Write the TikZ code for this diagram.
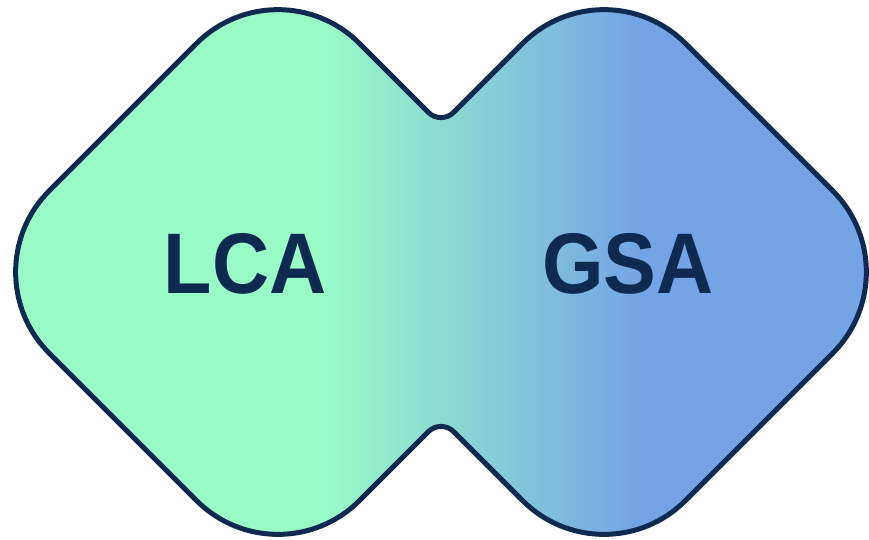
\documentclass[tikz,border=0pt]{standalone}
\usepackage{graphicx}
\usepackage{fontspec}
\setmainfont{Liberation Sans}
\usetikzlibrary{calc}
\definecolor{mint}{HTML}{99FCC7}
\definecolor{sky}{HTML}{74A4E5}
\definecolor{navy}{HTML}{0F2A50}
\tikzset{
  rc/.style n args={3}{insert path={-- ($(#1)!115pt!(#2)$) .. controls ($(#1)!51.5pt!(#2)$) and ($(#1)!51.5pt!(#3)$) .. ($(#1)!115pt!(#3)$)}},
  rcs/.style n args={3}{insert path={-- ($(#1)!18pt!(#2)$) .. controls ($(#1)!8pt!(#2)$) and ($(#1)!8pt!(#3)$) .. ($(#1)!18pt!(#3)$)}},
  lbl/.style={text=navy,font=\fontsize{86}{90}\selectfont\bfseries,anchor=base}
}
\begin{document}
\begin{tikzpicture}[x=1pt,y=-1pt]
  \useasboundingbox (0,0) rectangle (869,539);
  % corners of the two lobes and the pinch
  \coordinate (Ll) at (-32,272);
  \coordinate (Lt) at (278,-38);
  \coordinate (Lb) at (278,582);
  \coordinate (Rt) at (604,-38);
  \coordinate (Rr) at (914,272);
  \coordinate (Rb) at (604,582);
  \coordinate (Pt) at (441,125);
  \coordinate (Pb) at (441,419);

  \path[save path=\blob] ($(Ll)!115pt!(Lt)$) [rc={Lt}{Ll}{Pt}] [rcs={Pt}{Lt}{Rt}] [rc={Rt}{Pt}{Rr}] [rc={Rr}{Rt}{Rb}]
    [rc={Rb}{Rr}{Pb}] [rcs={Pb}{Rb}{Lb}] [rc={Lb}{Pb}{Ll}] [rc={Ll}{Lb}{Lt}] -- cycle;

  \begin{scope}
    \clip[use path=\blob];
    \fill[mint] (0,0) rectangle (324,539);
    \shade[left color=mint,right color=sky] (322,0) rectangle (640,539);
    \fill[sky] (638,0) rectangle (869,539);
  \end{scope}
  \draw[navy,line width=5pt,use path=\blob];

  \node[lbl] (lca) at (245,293) {\scalebox{0.92}[1]{LCA}};
  \node[lbl] (gsa) at (628,293) {\scalebox{0.92}[1]{GSA}};
\end{tikzpicture}
\end{document}
